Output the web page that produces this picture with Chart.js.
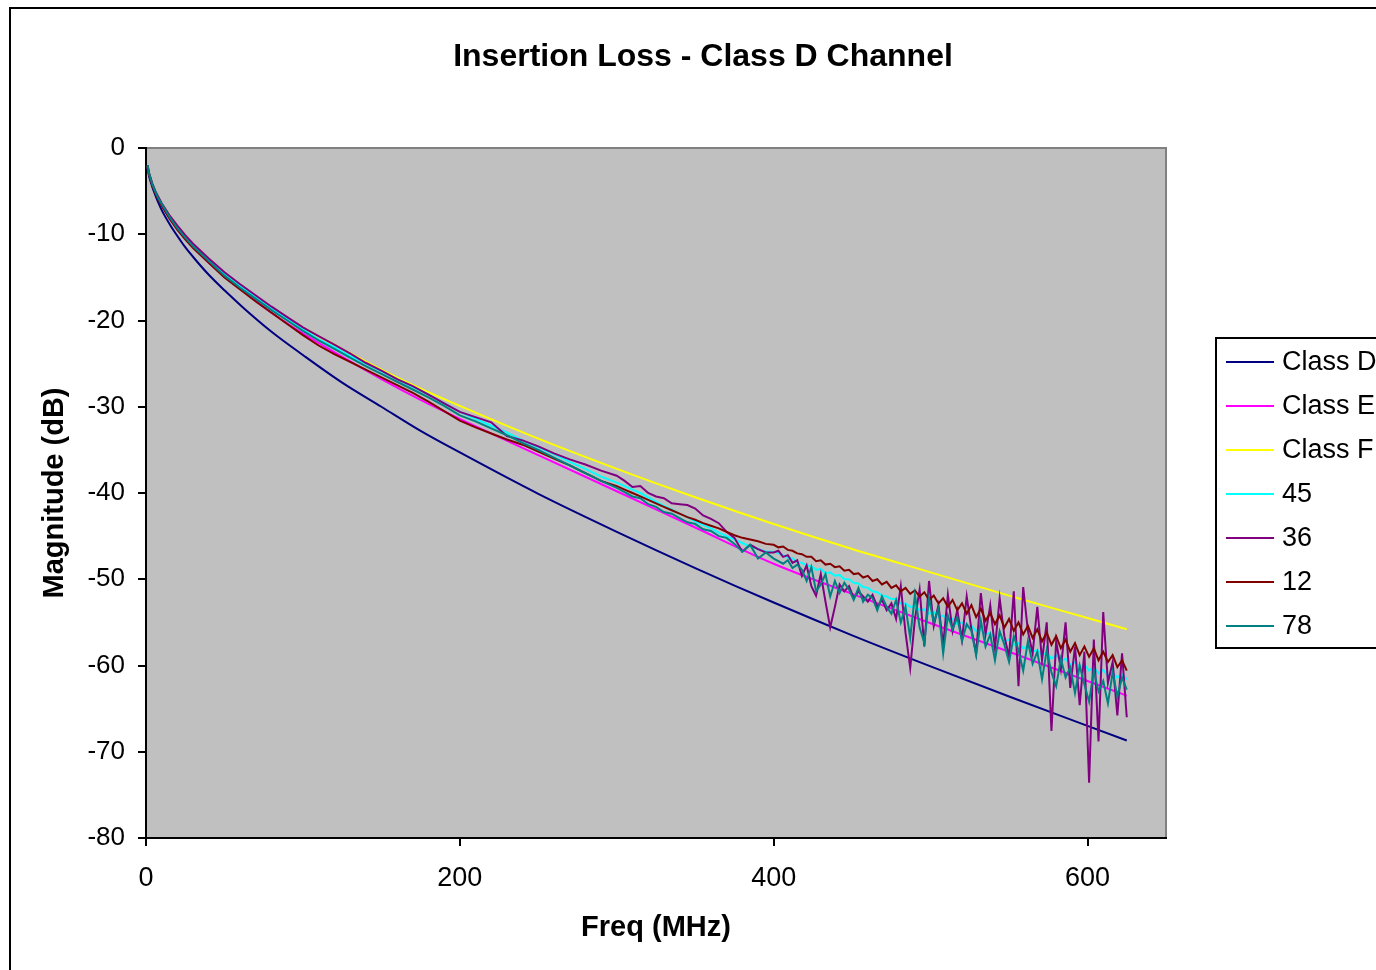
<!DOCTYPE html>
<html>
<head>
<meta charset="utf-8">
<title>Insertion Loss - Class D Channel</title>
<script src="https://cdn.jsdelivr.net/npm/chart.js@4.4.1/dist/chart.umd.min.js"></script>
<style>
  html, body { margin: 0; padding: 0; background: #fff; overflow: hidden; }
</style>
</head>
<body>
<canvas id="myChart" width="1376" height="970"></canvas>
<script>
const chartTitle = 'Insertion Loss - Class D Channel';
const xTitle = 'Freq (MHz)';
const yTitle = 'Magnitude (dB)';

// tick labels
const xTicks = [0, 200, 400, 600];
const yTicks = [0, -10, -20, -30, -40, -50, -60, -70, -80];

// limit lines (smooth)
const limitFreqs = [1, 2, 4, 6, 8, 10, 15, 20, 25, 31.25, 40, 50, 62.5, 80, 100, 125, 150, 175, 200,
  250, 300, 350, 400, 450, 500, 550, 600, 625];
const classD = [-2.4, -3.3, -4.5, -5.5, -6.4, -7.2, -8.8, -10.2, -11.5, -12.9, -14.7, -16.5, -18.6, -21.3,
  -24.0, -27.2, -30.0, -32.8, -35.3, -40.1, -44.5, -48.7, -52.7, -56.5, -60.1, -63.6, -67.0, -68.7];
const classE = [-2.3, -3.0, -4.2, -5.1, -5.9, -6.6, -8.1, -9.3, -10.5, -11.7, -13.3, -14.9, -16.7, -19.1,
  -21.5, -24.2, -26.8, -29.2, -31.4, -35.6, -39.8, -44.0, -48.2, -51.7, -55.1, -58.4, -61.8, -63.5];
const classF = [-2.2, -2.9, -4.1, -5.0, -5.7, -6.4, -7.8, -9.1, -10.2, -11.4, -12.9, -14.5, -16.2, -18.5,
  -20.8, -23.3, -25.7, -27.9, -29.9, -33.7, -37.2, -40.5, -43.6, -46.5, -49.2, -51.9, -54.5, -55.8];

// measured pairs
const measFreqs = [
  1, 2, 4, 6, 8, 10, 15, 20, 25, 30, 40, 50, 60, 70, 80, 90, 100, 110, 120, 130, 140, 150, 160, 170, 180,
  190, 200, 210, 220, 230, 240, 250, 260, 270, 280, 290, 300,
  305, 310, 315, 320, 325, 330, 335, 340, 345, 350, 355, 360, 365, 370, 375, 380, 385, 390, 395,
  400, 403, 406, 409, 412, 415, 418, 421, 424, 427, 430, 433, 436, 439, 442, 445, 448, 451, 454, 457,
  460, 463, 466, 469, 472, 475, 478, 481, 484, 487, 490, 493, 496, 499, 502, 505, 508, 511, 514, 517,
  520, 523, 526, 529, 532, 535, 538, 541, 544, 547, 550, 553, 556, 559, 562, 565, 568, 571, 574, 577,
  580, 583, 586, 589, 592, 595, 598, 601, 604, 607, 610, 613, 616, 619, 622, 625];

const pair45 = [
  -2.0, -2.9, -4.1, -5.0, -5.8, -6.4, -7.9, -9.2, -10.3, -11.3, -13.0, -14.6, -16.0, -17.3, -18.6, -19.8,
  -21.0, -22.2, -23.1, -24.1, -25.0, -25.9, -26.8, -27.7, -28.6, -29.6, -30.6, -31.4, -32.2, -33.0, -33.9,
  -34.7, -35.5, -36.4, -37.2, -38.1, -38.8,
  -39.2, -39.6, -40.0, -40.5, -41.0, -41.5, -41.9, -42.4, -42.8, -43.3, -43.7, -44.1, -44.6, -45.0, -45.4,
  -45.8, -46.2, -46.5, -46.8,
  -46.8, -47.0, -47.2, -47.5, -47.6, -48.0, -48.1, -48.4, -48.5, -48.9,
  -48.8, -49.3, -49.2, -49.6, -49.5, -50.0, -50.0, -50.4, -50.5, -50.9,
  -51.0, -51.4, -51.5, -51.9, -52.0, -52.3, -52.3, -52.8, -52.8, -53.2,
  -53.1, -53.6, -53.5, -54.0, -53.8, -54.4, -54.2, -54.8, -54.6, -55.2,
  -55.0, -55.6, -55.4, -56.0, -55.8, -56.4, -56.2, -56.8, -56.6, -57.2,
  -57.0, -57.6, -57.4, -58.0, -57.8, -58.4, -58.2, -58.8, -58.5, -59.2,
  -58.8, -59.5, -59.2, -59.9, -59.6, -60.2, -59.9, -60.6, -60.2, -60.9,
  -60.5, -61.2, -60.8, -61.4, -61.0, -61.6];

const pair36 = [
  -2.0, -2.9, -4.1, -5.0, -5.7, -6.4, -7.8, -9.0, -10.1, -11.1, -12.8, -14.4, -15.8, -17.1, -18.4, -19.6,
  -20.8, -21.8, -22.8, -23.8, -24.9, -25.8, -26.8, -27.6, -28.6, -29.6, -30.6, -31.2, -31.8, -33.4, -33.9,
  -34.6, -35.4, -36.1, -36.7, -37.4, -38.0,
  -38.6, -39.3, -39.2, -40.0, -40.4, -40.6, -41.2, -41.3, -41.4, -41.8, -42.6, -43.0, -43.5, -44.5, -45.2,
  -46.8, -46.0, -46.5, -46.9,
  -46.9, -46.7, -47.4, -47.2, -48.1, -47.8, -49.6, -48.4, -50.8, -51.9,
  -49.4, -52.6, -55.6, -53.2, -50.6, -51.4, -50.8, -52.2, -51.4, -52.0,
  -52.6, -51.8, -53.2, -52.4, -53.6, -52.8, -54.6, -50.8, -56.2, -60.3,
  -54.6, -51.2, -57.8, -50.2, -55.4, -53.0, -57.6, -51.8, -56.0, -53.6,
  -57.0, -52.0, -55.8, -58.6, -51.6, -56.4, -53.0, -58.0, -52.2, -56.6,
  -59.0, -51.4, -62.4, -50.9, -56.0, -58.6, -53.2, -59.4, -55.0, -67.6,
  -57.2, -60.4, -55.0, -62.6, -57.8, -64.6, -58.4, -73.6, -57.0, -68.8,
  -53.8, -62.0, -59.6, -65.8, -58.6, -66.0];

const pair12 = [
  -2.1, -3.1, -4.3, -5.3, -6.0, -6.7, -8.2, -9.5, -10.6, -11.6, -13.3, -15.0, -16.4, -17.8, -19.1, -20.4,
  -21.7, -22.9, -23.9, -24.8, -25.7, -26.6, -27.5, -28.4, -29.4, -30.5, -31.6, -32.4, -33.1, -33.8, -34.4,
  -35.2, -36.0, -36.8, -37.7, -38.6, -39.2,
  -39.6, -40.0, -40.4, -40.8, -41.2, -41.6, -42.0, -42.4, -42.8, -43.1, -43.5, -43.8, -44.1, -44.5, -44.9,
  -45.2, -45.4, -45.6, -45.9,
  -46.0, -46.3, -46.2, -46.6, -46.7, -47.0, -47.1, -47.4, -47.4, -47.9,
  -47.8, -48.3, -48.2, -48.6, -48.5, -49.0, -48.9, -49.4, -49.3, -49.8,
  -49.6, -50.2, -50.0, -50.6, -50.3, -51.0, -50.7, -51.4, -51.0, -51.7,
  -51.3, -52.0, -51.5, -52.4, -51.9, -52.8, -52.2, -53.2, -52.4, -53.6,
  -52.8, -54.0, -53.0, -54.4, -53.4, -54.8, -53.9, -55.2, -54.2, -55.6,
  -54.6, -56.0, -55.0, -56.4, -55.4, -56.8, -55.8, -57.2, -56.2, -57.6,
  -56.6, -58.0, -57.0, -58.4, -57.4, -58.8, -57.8, -59.0, -58.0, -59.4,
  -58.4, -59.6, -58.8, -60.2, -59.4, -60.6];

const pair78 = [
  -2.0, -3.0, -4.2, -5.1, -5.9, -6.5, -8.0, -9.3, -10.4, -11.4, -13.1, -14.8, -16.2, -17.5, -18.8, -20.0,
  -21.2, -22.3, -23.3, -24.3, -25.3, -26.2, -27.1, -28.0, -28.9, -29.9, -31.0, -31.7, -32.5, -33.3, -34.2,
  -35.0, -35.9, -36.8, -37.7, -38.6, -39.4,
  -39.9, -40.4, -40.6, -41.3, -41.6, -42.2, -42.4, -42.9, -43.4, -43.6, -44.2, -44.4, -45.0, -45.2, -45.9,
  -46.8, -46.0, -47.6, -46.9,
  -47.6, -47.9, -48.2, -47.8, -48.7, -48.3, -48.9, -50.2, -48.6, -51.4,
  -50.6, -49.4, -52.0, -50.2, -51.6, -50.4, -51.2, -52.4, -51.0, -52.6,
  -51.8, -52.2, -53.6, -52.0, -53.2, -54.0, -52.4, -55.0, -53.2, -56.8,
  -51.8, -55.6, -57.4, -52.2, -55.0, -53.4, -58.6, -54.2, -55.8, -54.4,
  -57.2, -55.2, -56.0, -58.8, -54.8, -57.8, -56.4, -59.4, -56.0, -57.6,
  -59.6, -56.6, -58.2, -60.6, -57.2, -59.8, -58.4, -61.6, -58.2, -60.8,
  -62.4, -59.2, -61.4, -60.2, -63.2, -60.0, -62.2, -64.2, -60.6, -63.0,
  -61.8, -64.4, -60.8, -63.6, -61.4, -62.8];

const FONT = '"Liberation Sans", Arial, Helvetica, sans-serif';
Chart.defaults.font.family = FONT;
Chart.defaults.color = '#000';

const toPoints = (xs, ys) => xs.map((x, i) => ({ x: x, y: ys[i] }));

// gray plot area, outer frame, title and boxed legend (Excel look)
const excelFrame = {
  id: 'excelFrame',
  beforeDraw(chart) {
    const { ctx, chartArea: a } = chart;
    ctx.save();
    ctx.fillStyle = '#fff';
    ctx.fillRect(0, 0, chart.width, chart.height);
    ctx.strokeStyle = '#000';
    ctx.lineWidth = 2;
    ctx.strokeRect(10, 8, chart.width + 20, chart.height + 20);
    ctx.fillStyle = '#c0c0c0';
    ctx.fillRect(a.left, a.top, a.right - a.left, a.bottom - a.top);
    ctx.strokeStyle = '#808080';
    ctx.beginPath();
    ctx.moveTo(a.left, a.top);
    ctx.lineTo(a.right, a.top);
    ctx.lineTo(a.right, a.bottom);
    ctx.stroke();
    ctx.fillStyle = '#000';
    ctx.font = 'bold 32px ' + FONT;
    ctx.textAlign = 'center';
    ctx.textBaseline = 'middle';
    ctx.fillText(chartTitle, 703, 57);
    ctx.restore();
  },
  afterDraw(chart) {
    const ctx = chart.ctx;
    ctx.save();
    ctx.fillStyle = '#fff';
    ctx.fillRect(1216, 338, 200, 310);
    ctx.strokeStyle = '#000';
    ctx.lineWidth = 2;
    ctx.strokeRect(1216, 338, 200, 310);
    ctx.font = '27px ' + FONT;
    ctx.textAlign = 'left';
    ctx.textBaseline = 'middle';
    chart.data.datasets.forEach((ds, i) => {
      const y = 362 + i * 44;
      ctx.strokeStyle = ds.borderColor;
      ctx.lineWidth = 2;
      ctx.beginPath();
      ctx.moveTo(1226, y);
      ctx.lineTo(1274, y);
      ctx.stroke();
      ctx.fillStyle = '#000';
      ctx.fillText(ds.label, 1282, y + 1);
    });
    ctx.restore();
  }
};

const lineStyle = { borderWidth: 2, pointRadius: 0, tension: 0, fill: false };
const limitStyle = { borderWidth: 2, pointRadius: 0, cubicInterpolationMode: 'monotone', fill: false };

const ctx = document.getElementById('myChart').getContext('2d');
const myChartInstance = new Chart(ctx, {
  type: 'line',
  data: {
    datasets: [
      { label: 'Class D', data: toPoints(limitFreqs, classD), borderColor: '#000080', order: 7, ...limitStyle },
      { label: 'Class E', data: toPoints(limitFreqs, classE), borderColor: '#ff00ff', order: 6, ...limitStyle },
      { label: 'Class F', data: toPoints(limitFreqs, classF), borderColor: '#ffff00', order: 5, ...limitStyle },
      { label: '45', data: toPoints(measFreqs, pair45), borderColor: '#00ffff', order: 4, ...lineStyle },
      { label: '36', data: toPoints(measFreqs, pair36), borderColor: '#800080', order: 3, ...lineStyle },
      { label: '12', data: toPoints(measFreqs, pair12), borderColor: '#800000', order: 2, ...lineStyle },
      { label: '78', data: toPoints(measFreqs, pair78), borderColor: '#008080', order: 1, ...lineStyle }
    ]
  },
  options: {
    responsive: false,
    animation: false,
    events: [],
    layout: { padding: { left: 0, top: 148, right: 210, bottom: 0 } },
    plugins: { legend: { display: false }, tooltip: { enabled: false }, title: { display: false } },
    scales: {
      x: {
        type: 'linear', min: 0, max: 650,
        afterBuildTicks: s => { s.ticks = xTicks.map(v => ({ value: v })); },
        afterFit: s => { s.height = 132; },
        grid: { drawOnChartArea: false, color: '#000', lineWidth: 2, tickLength: 8 },
        border: { color: '#000', width: 2 },
        ticks: { color: '#000', font: { size: 27 }, padding: 16, maxRotation: 0, callback: v => String(v) },
        title: { display: true, text: xTitle, color: '#000', font: { size: 29, weight: 'bold' }, padding: { top: 0, bottom: 25 } }
      },
      y: {
        type: 'linear', min: -80, max: 0,
        afterBuildTicks: s => { s.ticks = yTicks.map(v => ({ value: v })); },
        afterFit: s => { s.width = 146; },
        grid: { drawOnChartArea: false, color: '#000', lineWidth: 2, tickLength: 8 },
        border: { color: '#000', width: 2 },
        ticks: { color: '#000', font: { size: 26 }, padding: 13, callback: v => String(v) },
        title: { display: true, text: yTitle, color: '#000', font: { size: 29, weight: 'bold' }, padding: { top: 38, bottom: 0 } }
      }
    }
  },
  plugins: [excelFrame]
});
</script>
</body>
</html>
